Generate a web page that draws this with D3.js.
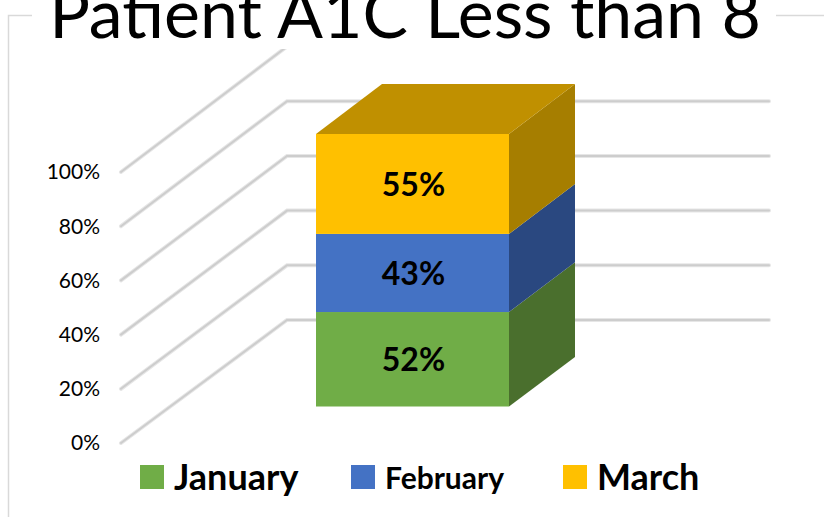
<!DOCTYPE html>
<html><head><meta charset="utf-8">
<script src="https://cdn.jsdelivr.net/npm/d3@7"></script>
<style>html,body{margin:0;padding:0;background:#fff;overflow:hidden}svg{display:block}text{font-family:Lato,"Open Sans",sans-serif;fill:#000}</style>
</head><body><svg id="c" width="824" height="517"></svg>
<script>
const title = "Patient A1C Less than 8";
const seriesNames = ["January", "February", "March"];
const seriesValues = [52, 43, 55];
const tickValues = [0, 20, 40, 60, 80, 100];

const frontColors = ["#70AD47", "#4472C4", "#FFC000"];
const sideColors = ["#4A6F2D", "#2A4880", "#A67E00"];
const topColor = "#C09000";
const legendSizes = [36, 30, 36];
const legendSwatchX = [140, 351, 563];

const svg = d3.select("#c");
const gridFront = d3.scaleLinear().domain([0, 100]).range([443, 172]);
const gridBack = d3.scaleLinear().domain([0, 100]).range([320, 46.5]);
const total = d3.sum(seriesValues);
const stacked = d3.stack().keys(seriesNames.map((_, i) => i))([seriesValues]);
const barFront = d3.scaleLinear().domain([0, total]).range([406.5, 134]);
const barBack = d3.scaleLinear().domain([0, total]).range([357, 84]);

svg.append("defs").append("clipPath").attr("id", "plot").append("rect")
  .attr("x", 100).attr("y", 49).attr("width", 700).attr("height", 420);

// chart frame, broken by the title
svg.append("path").attr("fill", "none").attr("stroke", "#D9D9D9").attr("stroke-width", 1.5)
  .attr("d", "M32,15.5H8.5V517M776,15.5H824");

// gridlines
const grid = svg.append("g").attr("clip-path", "url(#plot)");
const gridPath = d => `M121,${gridFront(d)}L287,${gridBack(d)}H769`;
grid.selectAll("path.h").data(tickValues).join("path").attr("class", "h")
  .attr("fill", "none").attr("stroke", "#E6E6E6").attr("stroke-width", 4).attr("stroke-linecap", "round")
  .attr("d", gridPath);
grid.selectAll("path.g").data(tickValues).join("path").attr("class", "g")
  .attr("fill", "none").attr("stroke", "#CDCDCD").attr("stroke-width", 2).attr("stroke-linecap", "round")
  .attr("d", gridPath);

// axis labels
svg.selectAll("text.tick").data(tickValues).join("text").attr("class", "tick")
  .attr("x", 100).attr("y", d => gridFront(d)).attr("dy", "0.35em")
  .attr("text-anchor", "end").attr("font-size", 21)
  .text(d => d + "%");

// 3D bar
const X0 = 316, X1 = 509, DX = 66;
const segs = svg.append("g");
stacked.forEach((s, i) => {
  const [a, b] = s[0];
  segs.append("rect").attr("x", X0).attr("width", X1 - X0)
    .attr("y", barFront(b)).attr("height", barFront(a) - barFront(b)).attr("fill", frontColors[i]);
  segs.append("path").attr("fill", sideColors[i])
    .attr("d", `M${X1},${barFront(a)}L${X1 + DX},${barBack(a)}V${barBack(b)}L${X1},${barFront(b)}Z`);
  segs.append("text").attr("x", (X0 + X1) / 2 + 1)
    .attr("y", (barFront(a) + barFront(b)) / 2 + 1).attr("dy", "0.35em")
    .attr("text-anchor", "middle").attr("font-size", 32).attr("font-weight", 700)
    .text(seriesValues[i] + "%");
});
segs.append("path").attr("fill", topColor)
  .attr("d", `M${X0},${barFront(total)}H${X1}L${X1 + DX},${barBack(total)}H${X0 + DX}Z`);

// title
svg.append("text").attr("x", 405).attr("y", 38).attr("text-anchor", "middle")
  .attr("font-size", 68).text(title);

// legend
seriesNames.forEach((n, i) => {
  svg.append("rect").attr("x", legendSwatchX[i]).attr("y", 465).attr("width", 24).attr("height", 24).attr("fill", frontColors[i]);
  svg.append("text").attr("x", legendSwatchX[i] + 34).attr("y", 490 - (i === 1 ? 1 : 0))
    .attr("font-size", legendSizes[i]).attr("font-weight", 700).text(n);
});
</script></body></html>
